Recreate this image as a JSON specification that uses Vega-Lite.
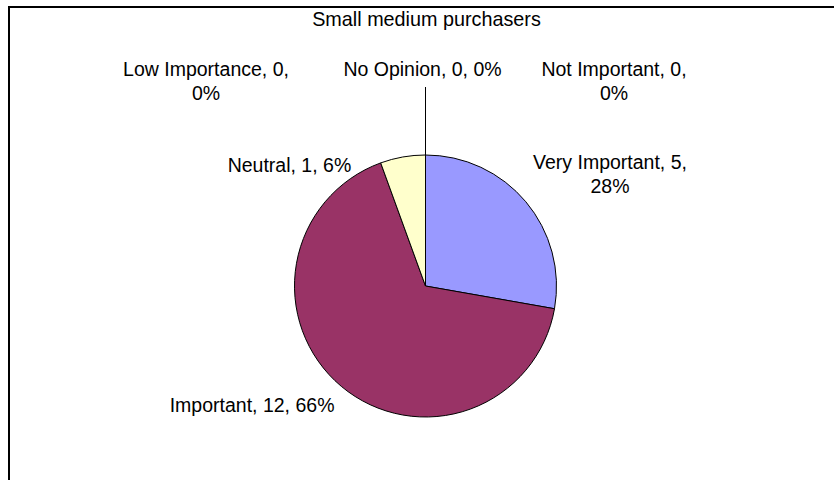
{
  "$schema": "https://vega.github.io/schema/vega-lite/v6.json",
  "width": 833,
  "height": 558,
  "autosize": {"type": "none"},
  "padding": {"left": 9, "top": 7, "right": -8, "bottom": -85},
  "background": "white",
  "view": {"stroke": "black", "strokeWidth": 2, "fill": "white"},
  "config": {
    "font": "Liberation Sans",
    "text": {"font": "Liberation Sans"}
  },
  "title": {
    "text": "Small medium purchasers",
    "orient": "top",
    "anchor": "middle",
    "frame": "group",
    "offset": -24,
    "dy": 15,
    "dx": 1,
    "baseline": "alphabetic",
    "font": "Liberation Sans",
    "fontSize": 19.8,
    "fontWeight": "normal",
    "color": "black"
  },
  "data": {
    "values": [
      {"category": "Very Important", "value": 5, "label": "Very Important, 5,\n28%", "order": 1},
      {"category": "Important", "value": 12, "label": "Important, 12, 66%", "order": 2},
      {"category": "Neutral", "value": 1, "label": "Neutral, 1, 6%", "order": 3},
      {"category": "Low Importance", "value": 0, "label": "Low Importance, 0,\n0%", "order": 4},
      {"category": "No Opinion", "value": 0, "label": "No Opinion, 0, 0%", "order": 5},
      {"category": "Not Important", "value": 0, "label": "Not Important, 0,\n0%", "order": 6}
    ]
  },
  "encoding": {
    "theta": {"field": "value", "type": "quantitative", "stack": true},
    "order": {"field": "order", "type": "quantitative"}
  },
  "layer": [
    {
      "mark": {"type": "arc", "outerRadius": 131, "stroke": "black", "strokeWidth": 1},
      "encoding": {
        "color": {
          "field": "category",
          "type": "nominal",
          "legend": null,
          "scale": {
            "domain": ["Very Important", "Important", "Neutral", "Low Importance", "No Opinion", "Not Important"],
            "range": ["#9999FF", "#993366", "#FFFFCC", "#CCFFFF", "#660066", "#FF8080"]
          }
        }
      }
    },
    {
      "mark": {"type": "arc", "innerRadius": 131, "outerRadius": 199, "stroke": "black", "strokeWidth": 1, "fill": null},
      "encoding": {
        "strokeOpacity": {"condition": {"test": "datum.category === 'No Opinion'", "value": 1}, "value": 0}
      }
    },
    {
      "mark": {
        "type": "text",
        "radius": 150,
        "align": "center",
        "baseline": "alphabetic",
        "fontSize": 19.5,
        "lineHeight": 24,
        "lineBreak": "\n",
        "color": "black",
        "dx": {"expr": "datum.category === 'Very Important' ? 69.6 : datum.category === 'Important' ? -77 : datum.category === 'Neutral' ? -110 : datum.category === 'Low Importance' ? -219.5 : datum.category === 'No Opinion' ? -3 : 188.5"},
        "dy": {"expr": "datum.category === 'Very Important' ? -20.6 : datum.category === 'Important' ? 11 : datum.category === 'Neutral' ? 33.7 : -60"}
      },
      "encoding": {
        "text": {"field": "label", "type": "nominal"}
      }
    }
  ]
}
